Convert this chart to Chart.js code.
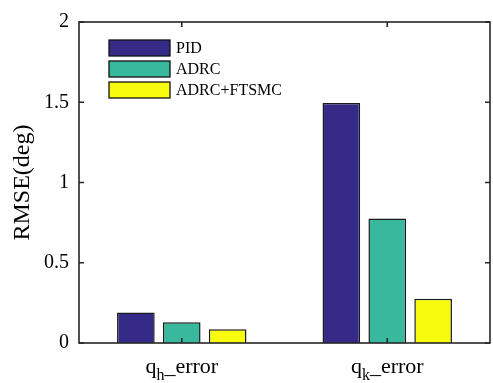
<!DOCTYPE html>
<html>
<head>
<meta charset="utf-8">
<title>RMSE</title>
<script src="https://cdn.jsdelivr.net/npm/chart.js@4.4.1/dist/chart.umd.min.js"></script>
<style>
  html, body { margin: 0; padding: 0; background: #fff; }
  #wrap { width: 493px; height: 383px; }
</style>
</head>
<body>
<div id="wrap"><canvas id="rmseChart" width="493" height="383"></canvas></div>
<script>
// data
var categories = ['q_h_error', 'q_k_error'];
var catBase = ['q', 'q'];
var catSub = ['h', 'k'];
var catRest = ['_error', '_error'];
var seriesNames = ['PID', 'ADRC', 'ADRC+FTSMC'];
var pidVals = [0.19, 1.495];
var adrcVals = [0.13, 0.775];
var ftsmcVals = [0.085, 0.275];
var yTicks = [0, 0.5, 1, 1.5, 2];

var colors = ['#352a87', '#38b99e', '#f9fb0e'];
var serif = "'Liberation Serif', 'DejaVu Serif', serif";
var axisColor = '#262626';

// frame with inward ticks, like the matlab box, plus legend and subscript labels
var framePlugin = {
  id: 'frame',
  afterDraw: function (chart) {
    var ctx = chart.ctx;
    var a = chart.chartArea;
    var ys = chart.scales.y, xs = chart.scales.x;
    ctx.save();
    ctx.strokeStyle = axisColor;
    ctx.lineWidth = 1.6;
    ctx.strokeRect(a.left, a.top, a.right - a.left, a.bottom - a.top);
    ctx.beginPath();
    yTicks.forEach(function (v) {
      var py = ys.getPixelForValue(v);
      ctx.moveTo(a.left, py); ctx.lineTo(a.left + 5, py);
      ctx.moveTo(a.right, py); ctx.lineTo(a.right - 5, py);
    });
    categories.forEach(function (c, i) {
      var px = xs.getPixelForValue(i);
      ctx.moveTo(px, a.bottom); ctx.lineTo(px, a.bottom - 5);
      ctx.moveTo(px, a.top); ctx.lineTo(px, a.top + 5);
    });
    ctx.stroke();

    // x labels with subscripts
    ctx.fillStyle = '#000';
    ctx.textBaseline = 'alphabetic';
    ctx.textAlign = 'left';
    var big = '22px ' + serif, small = '16px ' + serif;
    categories.forEach(function (c, i) {
      var px = xs.getPixelForValue(i);
      ctx.font = big;
      var w1 = ctx.measureText(catBase[i]).width;
      var w3 = ctx.measureText(catRest[i]).width;
      ctx.font = small;
      var w2 = ctx.measureText(catSub[i]).width;
      var x0 = px - (w1 + w2 + w3) / 2;
      var base = a.bottom + 30;
      ctx.font = big;
      ctx.fillText(catBase[i], x0, base);
      ctx.font = small;
      ctx.fillText(catSub[i], x0 + w1, base + 7);
      ctx.font = big;
      ctx.fillText(catRest[i], x0 + w1 + w2, base);
    });

    // legend
    var lx = a.left + 30, ly = a.top + 18;
    ctx.font = '16px ' + serif;
    ctx.textBaseline = 'middle';
    chart.data.datasets.forEach(function (ds, i) {
      var y = ly + i * 21;
      ctx.fillStyle = ds.backgroundColor;
      ctx.fillRect(lx, y, 61, 16);
      ctx.lineWidth = 1.3;
      ctx.strokeStyle = '#111';
      ctx.strokeRect(lx, y, 61, 16);
      ctx.fillStyle = '#000';
      ctx.fillText(ds.label, lx + 67, y + 9);
    });
    ctx.restore();
  }
};

var ctx = document.getElementById('rmseChart').getContext('2d');
var chart = new Chart(ctx, {
  type: 'bar',
  data: {
    labels: categories,
    datasets: [
      { label: seriesNames[0], data: pidVals, backgroundColor: colors[0] },
      { label: seriesNames[1], data: adrcVals, backgroundColor: colors[1] },
      { label: seriesNames[2], data: ftsmcVals, backgroundColor: colors[2] }
    ]
  },
  options: {
    responsive: false,
    animation: false,
    layout: { padding: { top: 18, right: 3, left: 0, bottom: 0 } },
    datasets: {
      bar: {
        borderColor: '#1a1a1a',
        borderWidth: 1.5,
        categoryPercentage: 0.67,
        barPercentage: 0.82
      }
    },
    plugins: {
      legend: { display: false },
      tooltip: { enabled: false }
    },
    scales: {
      x: {
        grid: { display: false, drawTicks: false },
        border: { display: false },
        ticks: { display: false },
        afterFit: function (s) { s.height = 40; }
      },
      y: {
        min: 0,
        max: 2,
        grid: { display: false, drawTicks: false },
        border: { display: false },
        ticks: {
          stepSize: 0.5,
          color: '#000',
          font: { family: serif, size: 20 },
          padding: 10,
          callback: function (v) { return String(v); }
        },
        title: {
          display: true,
          text: 'RMSE(deg)',
          color: '#000',
          font: { family: serif, size: 24 },
          padding: { top: 8, bottom: 0 }
        },
        afterFit: function (s) { s.width = 79; }
      }
    }
  },
  plugins: [framePlugin]
});
</script>
</body>
</html>
